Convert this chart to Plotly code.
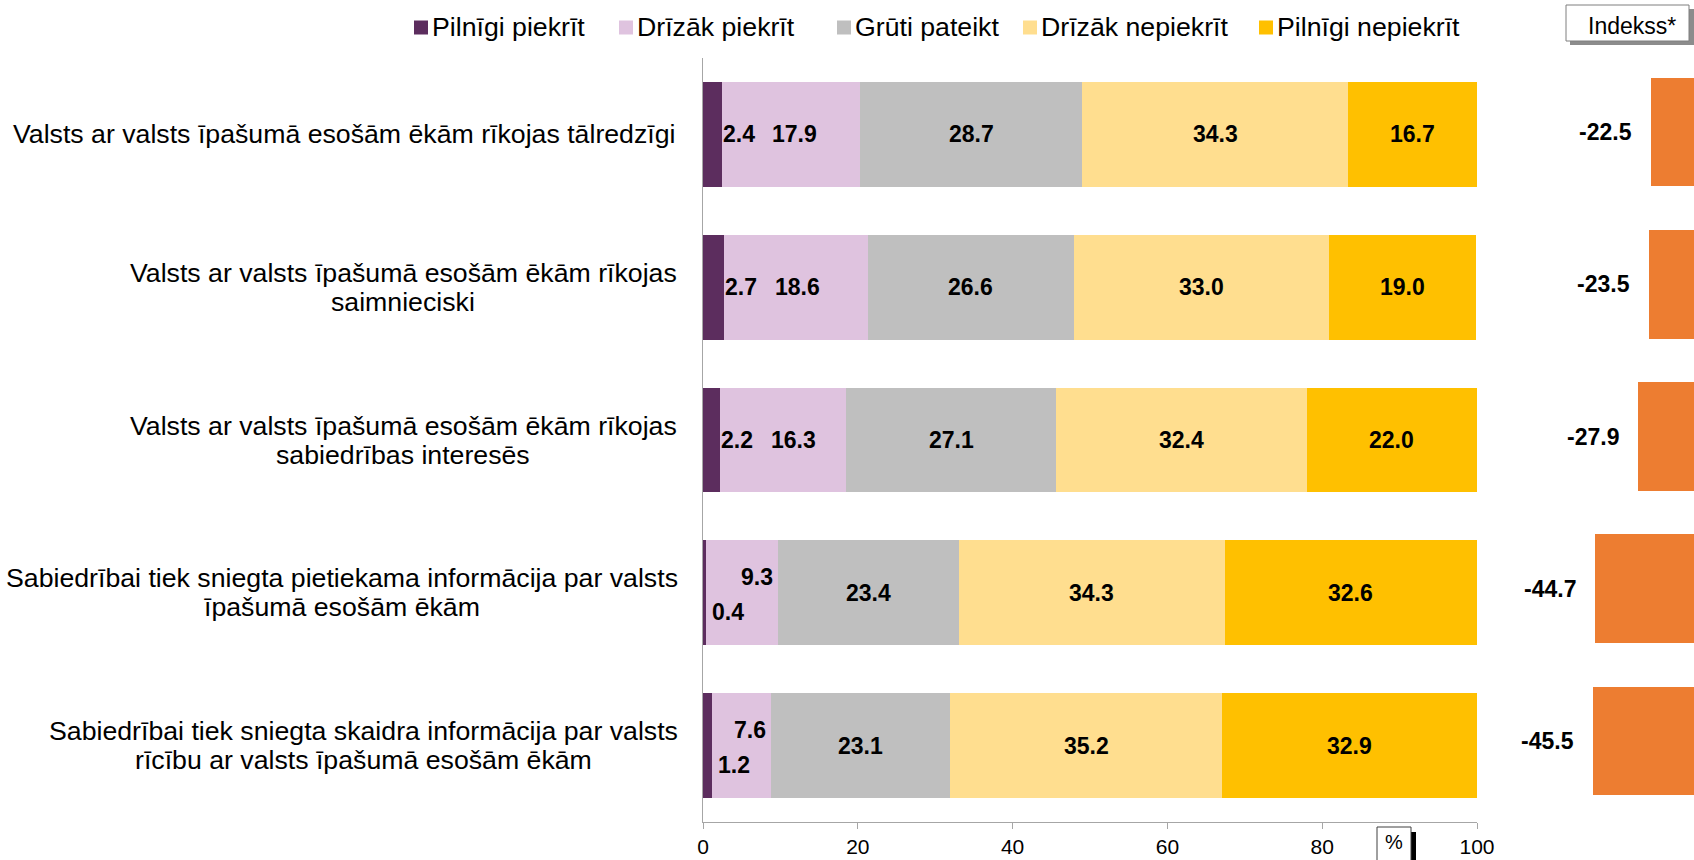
import plotly.graph_objects as go

# ---------------- data ----------------
category_lines = [
    ["Valsts ar valsts īpašumā esošām ēkām rīkojas tālredzīgi"],
    ["Valsts ar valsts īpašumā esošām ēkām rīkojas", "saimnieciski"],
    ["Valsts ar valsts īpašumā esošām ēkām rīkojas", "sabiedrības interesēs"],
    ["Sabiedrībai tiek sniegta pietiekama informācija par valsts", "īpašumā esošām ēkām"],
    ["Sabiedrībai tiek sniegta skaidra informācija par valsts", "rīcību ar valsts īpašumā esošām ēkām"],
]
categories = [" ".join(l) for l in category_lines]
series_names = ["Pilnīgi piekrīt", "Drīzāk piekrīt", "Grūti pateikt", "Drīzāk nepiekrīt", "Pilnīgi nepiekrīt"]
pilnigi_piekrit = [2.4, 2.7, 2.2, 0.4, 1.2]
drizak_piekrit = [17.9, 18.6, 16.3, 9.3, 7.6]
gruti_pateikt = [28.7, 26.6, 27.1, 23.4, 23.1]
drizak_nepiekrit = [34.3, 33.0, 32.4, 34.3, 35.2]
pilnigi_nepiekrit = [16.7, 19.0, 22.0, 32.6, 32.9]
indekss = [-22.5, -23.5, -27.9, -44.7, -45.5]
x_ticks = [0, 20, 40, 60, 80, 100]

series_values = [pilnigi_piekrit, drizak_piekrit, gruti_pateikt, drizak_nepiekrit, pilnigi_nepiekrit]
colors = ["#5C2D5E", "#DFC3DF", "#BFBFBF", "#FFDE8F", "#FFC000"]
index_color = "#ED7D31"

W, H = 1694, 860
FONT = "Liberation Sans, Arial, sans-serif"
CAT_SIZE = 26.7
LAB_SIZE = 23
X0_PX, X1_PX = 703, 1477          # main plot area (pixels)
UNIT_PX = (X1_PX - X0_PX) / 100.0

# Arial / Liberation Sans advance widths (1/1000 em)
_CW = {" ": 278, "a": 556, "b": 556, "c": 500, "d": 556, "e": 556, "f": 278, "g": 556,
       "h": 556, "i": 222, "j": 222, "k": 500, "l": 222, "m": 833, "n": 556, "o": 556,
       "p": 556, "r": 333, "s": 500, "t": 278, "u": 556, "v": 500, "z": 500, "V": 667,
       "S": 667, "ā": 556, "ē": 556, "ī": 278, "ū": 556, "š": 500, ".": 278, "-": 333}


def text_width(s, size):
    return sum(_CW.get(ch, 556) for ch in s) * size / 1000.0


def px(x):
    return x / W


def py(y):
    return 1 - y / H


fig = go.Figure()
for name, vals, col in zip(series_names, series_values, colors):
    fig.add_trace(go.Bar(
        y=categories, x=vals, name=name, orientation="h",
        marker=dict(color=col, line=dict(width=0)),
        width=0.687, xaxis="x", yaxis="y", hoverinfo="x+name", showlegend=False,
    ))

fig.add_trace(go.Bar(
    y=categories, x=indekss, orientation="h", name="Indekss*",
    marker=dict(color=index_color, line=dict(width=0)),
    width=0.713, xaxis="x2", yaxis="y2", showlegend=False,
))

annotations = []
shapes = []
lab_font = dict(family=FONT, size=LAB_SIZE, color="black", weight="bold")
cat_font = dict(family=FONT, size=CAT_SIZE, color="black")

# category labels (right edge of the longest line at x=678px, lines centred)
RIGHT = 678
for c, lines in zip(categories, category_lines):
    if len(lines) == 1:
        annotations.append(dict(x=px(RIGHT), xref="paper", y=c, yref="y", text=lines[0],
                                showarrow=False, xanchor="right", yanchor="middle", font=cat_font))
    else:
        wmax = max(text_width(l, CAT_SIZE) for l in lines)
        centre = RIGHT - wmax / 2
        for k, line in enumerate(lines):
            annotations.append(dict(x=px(centre), xref="paper", y=c, yref="y", text=line,
                                    showarrow=False, xanchor="center", yanchor="middle",
                                    yshift=14.5 if k == 0 else -14.5, font=cat_font))

# data labels
for i, c in enumerate(categories):
    d, p = pilnigi_piekrit[i], drizak_piekrit[i]
    tight = (d + p) < 12
    d_txt, p_txt = f"{d:.1f}", f"{p:.1f}"
    d_shift = 4 if tight else -1
    annotations.append(dict(
        x=d, xref="x", y=c, yref="y", text=d_txt, showarrow=False,
        xanchor="left", yanchor="middle", xshift=d_shift,
        yshift=-19 if tight else 0, font=lab_font,
    ))
    if tight:
        annotations.append(dict(
            x=d + p, xref="x", y=c, yref="y", text=p_txt, showarrow=False,
            xanchor="right", yanchor="middle", xshift=-3, yshift=16, font=lab_font,
        ))
    else:
        # keep a gap between the dark-segment label and the pink-segment label
        d_right = d * UNIT_PX + d_shift + text_width(d_txt, LAB_SIZE)
        centre = (d + p / 2) * UNIT_PX
        min_centre = d_right + 20 + text_width(p_txt, LAB_SIZE) / 2
        shift = max(0.0, min_centre - centre)
        annotations.append(dict(
            x=d + p / 2, xref="x", y=c, yref="y", text=p_txt, showarrow=False,
            xanchor="center", yanchor="middle", xshift=shift, font=lab_font,
        ))
    cum = d + p
    for vals in series_values[2:]:
        v = vals[i]
        annotations.append(dict(
            x=cum + v / 2, xref="x", y=c, yref="y", text=f"{v:.1f}", showarrow=False,
            xanchor="center", yanchor="middle", font=lab_font,
        ))
        cum += v
    annotations.append(dict(
        x=indekss[i], xref="x2", y=c, yref="y2", text=f"{indekss[i]:.1f}", showarrow=False,
        xanchor="right", yanchor="middle", xshift=-17, font=lab_font,
    ))

# legend (drawn manually to match the spacing of the original)
legend_x = [414, 619, 837, 1023, 1259]
for name, col, lx in zip(series_names, colors, legend_x):
    shapes.append(dict(type="rect", xref="paper", yref="paper", x0=px(lx), x1=px(lx + 14),
                       y0=py(34.5), y1=py(20.5), fillcolor=col, line=dict(width=0)))
    annotations.append(dict(x=px(lx + 16), y=py(27), xref="paper", yref="paper", text=name,
                            showarrow=False, xanchor="left", yanchor="middle",
                            font=dict(family=FONT, size=CAT_SIZE, color="black")))

# "Indekss*" box text and "%" box text
annotations.append(dict(x=px(1632), y=py(26), xref="paper", yref="paper", text="Indekss*",
                        showarrow=False, xanchor="center", yanchor="middle",
                        font=dict(family=FONT, size=23, color="black")))
annotations.append(dict(x=px(1394), y=py(842), xref="paper", yref="paper", text="%",
                        showarrow=False, xanchor="center", yanchor="middle",
                        font=dict(family=FONT, size=20, color="black")))

shapes += [
    dict(type="rect", xref="paper", yref="paper", x0=px(1570), x1=px(1694), y0=py(45), y1=py(9),
         fillcolor="#8C8C8C", line=dict(width=0), layer="above"),
    dict(type="rect", xref="paper", yref="paper", x0=px(1566), x1=px(1689), y0=py(41), y1=py(5),
         fillcolor="white", line=dict(color="#7F7F7F", width=1), layer="above"),
    dict(type="rect", xref="paper", yref="paper", x0=px(1410), x1=px(1416), y0=py(862), y1=py(832),
         fillcolor="black", line=dict(width=0), layer="above"),
    dict(type="rect", xref="paper", yref="paper", x0=px(1377), x1=px(1411), y0=py(862), y1=py(827),
         fillcolor="white", line=dict(color="#404040", width=1), layer="above"),
]

fig.update_layout(
    width=W, height=H, autosize=False,
    margin=dict(l=0, r=0, t=0, b=0, pad=0, autoexpand=False),
    paper_bgcolor="white", plot_bgcolor="white",
    barmode="stack",
    font=dict(family=FONT, color="black"),
    showlegend=False,
    xaxis=dict(domain=[px(X0_PX), px(X1_PX)], range=[0, 100], tickvals=x_ticks,
               showgrid=False, zeroline=False, showline=True, linecolor="#A6A6A6", linewidth=1,
               ticks="outside", ticklen=6, tickcolor="#A6A6A6", automargin=False,
               tickfont=dict(family=FONT, size=21, color="black"), anchor="y"),
    yaxis=dict(domain=[py(822), py(58)], categoryorder="array", categoryarray=categories,
               autorange="reversed", showticklabels=False, ticks="", showgrid=False,
               showline=True, linecolor="#A6A6A6", linewidth=1, zeroline=False, anchor="x",
               automargin=False),
    xaxis2=dict(domain=[px(1500), 1], range=[-82.7, -5.38], visible=False, anchor="y2",
                automargin=False),
    yaxis2=dict(domain=[py(817), py(56)], categoryorder="array", categoryarray=categories,
                autorange="reversed", visible=False, anchor="x2", automargin=False),
    annotations=annotations,
    shapes=shapes,
)

post = ("document.body.style.margin='0';document.body.style.padding='0';"
        "document.body.style.overflow='hidden';")

fig.write_html("out.html", config={"responsive": False, "displayModeBar": False},
               post_script=post)
